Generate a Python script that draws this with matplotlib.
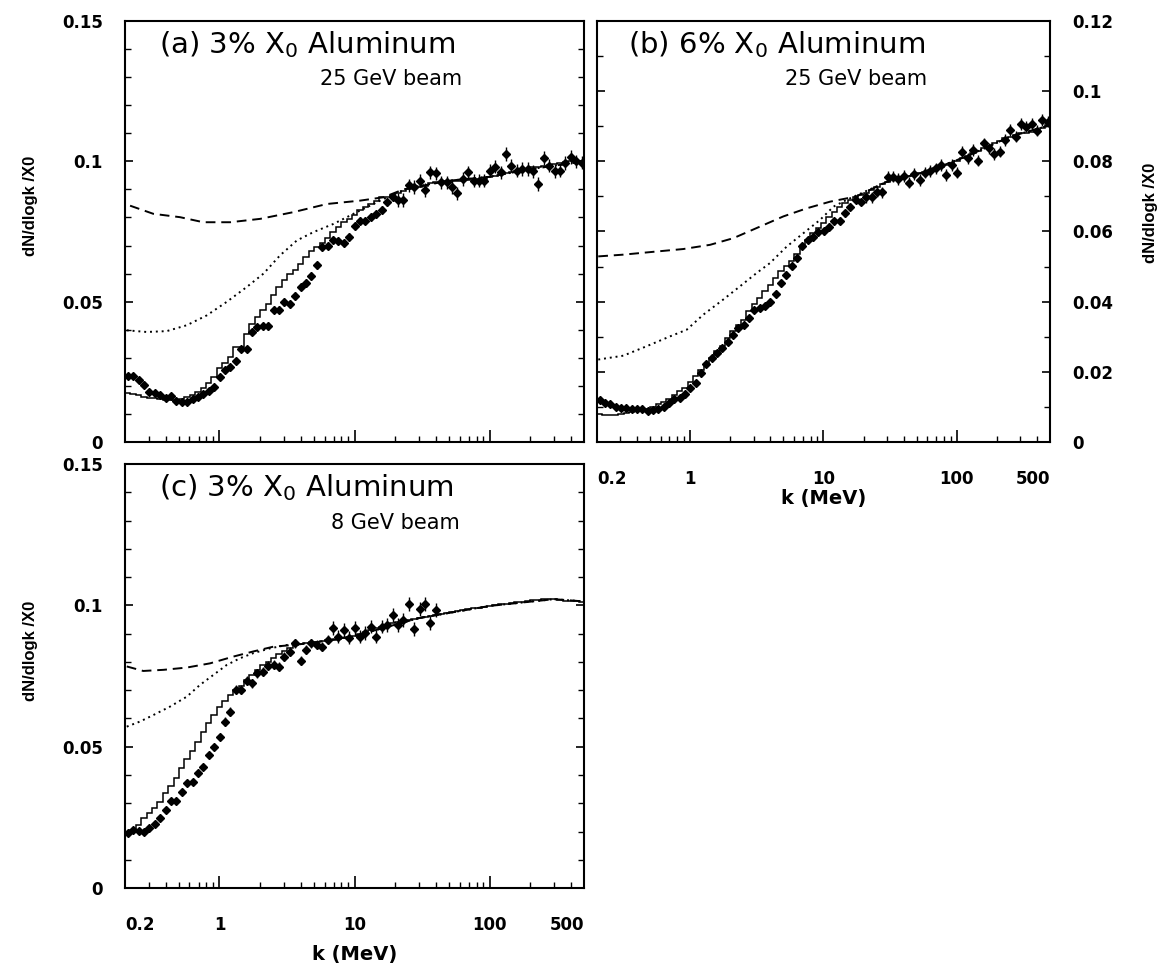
import numpy as np
import matplotlib.pyplot as plt
from matplotlib.ticker import FixedLocator, LogLocator, MultipleLocator, NullFormatter

plt.rcParams['font.family'] = 'DejaVu Sans'

# photon energy bins, 25 per decade from 0.2 to 500 MeV
k_edges = 0.2 * 10 ** (np.arange(86) / 25)
k_mid = np.sqrt(k_edges[:-1] * k_edges[1:])

# (a) 3% X0 Al, 25 GeV
data_a = [0.0235, 0.0235, 0.0220, 0.0203, 0.0179, 0.0173, 0.0167, 0.0158, 0.0163, 0.0146,
          0.0143, 0.0143, 0.0152, 0.0159, 0.0171, 0.0182, 0.0197, 0.0230, 0.0258, 0.0268,
          0.0288, 0.0333, 0.0333, 0.0392, 0.0410, 0.0412, 0.0412, 0.0472, 0.0472, 0.0499,
          0.0493, 0.0519, 0.0554, 0.0566, 0.0590, 0.0629, 0.0694, 0.0700, 0.0720, 0.0716,
          0.0709, 0.0730, 0.0771, 0.0789, 0.0789, 0.0801, 0.0813, 0.0827, 0.0854, 0.0872,
          0.0863, 0.0863, 0.0914, 0.0908, 0.0931, 0.0898, 0.0961, 0.0957, 0.0925, 0.0925,
          0.0908, 0.0886, 0.0937, 0.0961, 0.0931, 0.0931, 0.0931, 0.0967, 0.0981, 0.0961,
          0.1026, 0.0985, 0.0967, 0.0973, 0.0973, 0.0964, 0.0919, 0.1012, 0.0985, 0.0964,
          0.0967, 0.0994, 0.1015, 0.1000, 0.0995]
err_a = [0.0005] * 25 + [0.0014] * 25 + [0.0024] * 35
mc_a = [0.0175, 0.0171, 0.0166, 0.0161, 0.0158, 0.0155, 0.0153, 0.0150, 0.0149, 0.0149,
        0.0152, 0.0161, 0.0169, 0.0179, 0.0194, 0.0209, 0.0232, 0.0262, 0.0280, 0.0303,
        0.0339, 0.0339, 0.0386, 0.0422, 0.0445, 0.0469, 0.0493, 0.0522, 0.0552, 0.0576,
        0.0600, 0.0614, 0.0635, 0.0659, 0.0682, 0.0694, 0.0709, 0.0727, 0.0748, 0.0765,
        0.0783, 0.0795, 0.0807, 0.0825, 0.0839, 0.0848, 0.0860, 0.0872, 0.0872, 0.0881,
        0.0886, 0.0893, 0.0902, 0.0908, 0.0908, 0.0913, 0.0922, 0.0925, 0.0925, 0.0929,
        0.0931, 0.0931, 0.0931, 0.0934, 0.0934, 0.0937, 0.0937, 0.0945, 0.0949, 0.0955,
        0.0957, 0.0961, 0.0967, 0.0969, 0.0973, 0.0979, 0.0979, 0.0985, 0.0988, 0.0990,
        0.0993, 0.0996, 0.1000, 0.1000, 0.1002]
dash_k_a = [0.218, 0.324, 0.511, 0.76, 1.2, 2.0, 3.53, 6.24, 11.0, 16.4, 23.0, 50, 100, 200, 500]
dash_a = [0.0842, 0.0813, 0.0801, 0.0783, 0.0783, 0.0795, 0.0819, 0.0848, 0.0860, 0.0872,
          0.0900, 0.0931, 0.0945, 0.0972, 0.1000]
dot_k_a = [0.206, 0.289, 0.407, 0.573, 0.805, 1.13, 1.59, 2.12, 2.81, 3.74, 4.97, 6.98, 9.82,
           12.3, 16.4, 25, 50, 100, 200, 500]
dot_a = [0.0398, 0.0392, 0.0395, 0.0416, 0.0451, 0.0499, 0.0552, 0.0600, 0.0665, 0.0718,
         0.0748, 0.0777, 0.0813, 0.0836, 0.0866, 0.0905, 0.0931, 0.0945, 0.0972, 0.1000]

# (b) 6% X0 Al, 25 GeV
data_b = [0.01185, 0.01119, 0.01071, 0.01005, 0.00976, 0.00976, 0.00948, 0.00948, 0.00929, 0.00882,
          0.00910, 0.00929, 0.01005, 0.01119, 0.01213, 0.01261, 0.01355, 0.01545, 0.01687, 0.01972,
          0.02209, 0.02398, 0.02540, 0.02683, 0.02844, 0.03062, 0.03251, 0.03346, 0.03536, 0.03773,
          0.03820, 0.03886, 0.03981, 0.04228, 0.04531, 0.04768, 0.05005, 0.05242, 0.05574, 0.05763,
          0.05839, 0.05972, 0.06000, 0.06142, 0.06285, 0.06313, 0.06522, 0.06711, 0.06901, 0.06853,
          0.06977, 0.06977, 0.07138, 0.07119, 0.07564, 0.07564, 0.07498, 0.07583, 0.07394, 0.07640,
          0.07469, 0.07678, 0.07725, 0.07801, 0.07896, 0.07612, 0.07896, 0.07678, 0.08275, 0.08086,
          0.08323, 0.08019, 0.08512, 0.08370, 0.08209, 0.08275, 0.08607, 0.08891, 0.08702, 0.09062,
          0.08986, 0.09062, 0.08872, 0.09176, 0.09128]
err_b = [0.0004] * 35 + [0.0010] * 15 + [0.0016] * 35
mc_b = [0.00787, 0.00768, 0.00758, 0.00768, 0.00787, 0.00815, 0.00853, 0.00882, 0.00910, 0.00948,
        0.01005, 0.01071, 0.01147, 0.01232, 0.01327, 0.01441, 0.01545, 0.01706, 0.01877, 0.02047,
        0.02209, 0.02398, 0.02588, 0.02730, 0.02967, 0.03157, 0.03346, 0.03488, 0.03725, 0.03943,
        0.04104, 0.04294, 0.04484, 0.04673, 0.04863, 0.05005, 0.05147, 0.05365, 0.05555, 0.05763,
        0.05953, 0.06095, 0.06256, 0.06427, 0.06569, 0.06711, 0.06806, 0.06901, 0.06977, 0.07043,
        0.07109, 0.07185, 0.07261, 0.07356, 0.07422, 0.07469, 0.07498, 0.07545, 0.07583, 0.07621,
        0.07659, 0.07706, 0.07754, 0.07801, 0.07849, 0.07896, 0.07943, 0.08010, 0.08086, 0.08152,
        0.08228, 0.08304, 0.08370, 0.08446, 0.08512, 0.08588, 0.08654, 0.08702, 0.08749, 0.08797,
        0.08815, 0.08834, 0.08853, 0.08939, 0.09034]
dash_k_b = [0.2045, 0.315, 0.561, 0.887, 1.41, 2.11, 3.34, 5.0, 7.48, 11.2, 17.7, 30, 60, 120, 250, 500]
dash_b = [0.0529, 0.0534, 0.0543, 0.0550, 0.0562, 0.0581, 0.0614, 0.0643, 0.0666, 0.0685,
          0.0700, 0.0742, 0.0771, 0.0815, 0.0870, 0.0903]
dot_k_b = [0.2045, 0.315, 0.472, 0.706, 0.942, 1.256, 1.77, 2.37, 3.16, 3.97, 5.30, 7.06, 9.42,
           11.9, 14.9, 20, 30, 60, 120, 250, 500]
dot_b = [0.0235, 0.0246, 0.0273, 0.0301, 0.0320, 0.0363, 0.0406, 0.0444, 0.0482, 0.0510,
         0.0557, 0.0595, 0.0633, 0.0671, 0.0690, 0.0712, 0.0742, 0.0771, 0.0815, 0.0870, 0.0903]

# (c) 3% X0 Al, 8 GeV
data_c = [0.01935, 0.02053, 0.02018, 0.01971, 0.02136, 0.02254, 0.02466, 0.02761, 0.03080, 0.03080,
          0.03387, 0.03705, 0.03764, 0.04059, 0.04295, 0.04708, 0.05003, 0.05357, 0.05888, 0.06242,
          0.07009, 0.07009, 0.07328, 0.07245, 0.07599, 0.07658, 0.07871, 0.07894, 0.07835, 0.08189,
          0.08366, 0.08661, 0.08036, 0.08425, 0.08661, 0.08602, 0.08543, 0.08779, 0.09192, 0.08897,
          0.09133, 0.08862, 0.09192, 0.08897, 0.09015, 0.09251, 0.08897, 0.09251, 0.09310, 0.09664,
          0.09310, 0.09487, 0.10042, 0.09169, 0.09877, 0.10042, 0.09369, 0.09841]
err_c = [0.0006] * 18 + [0.0016] * 20 + [0.0024] * 20
mc_c = [0.01971, 0.02053, 0.02230, 0.02466, 0.02643, 0.02844, 0.03056, 0.03351, 0.03623, 0.03906,
        0.04236, 0.04567, 0.04850, 0.05157, 0.05534, 0.05829, 0.06124, 0.06419, 0.06620, 0.06832,
        0.07009, 0.07163, 0.07363, 0.07540, 0.07717, 0.07894, 0.08012, 0.08154, 0.08272, 0.08390,
        0.08484, 0.08602, 0.08649, 0.08661, 0.08697, 0.08720, 0.08744, 0.08767, 0.08791, 0.08815,
        0.08838, 0.08874, 0.08921, 0.08980, 0.09051, 0.09133, 0.09192, 0.09251, 0.09310, 0.09369,
        0.09405, 0.09452, 0.09487, 0.09523, 0.09546, 0.09582, 0.09617, 0.09652, 0.09688, 0.09723,
        0.09759, 0.09794, 0.09829, 0.09865, 0.09900, 0.09924, 0.09959, 0.09983, 0.10018, 0.10042,
        0.10065, 0.10089, 0.10113, 0.10136, 0.10160, 0.10184, 0.10207, 0.10231, 0.10231, 0.10219,
        0.10195, 0.10172, 0.10160, 0.10160, 0.10136]
dash_k_c = [0.206, 0.273, 0.385, 0.573, 0.853, 1.27, 1.78, 2.51, 3.53, 4.97, 10, 30, 100, 300, 500]
dash_c = [0.0784, 0.0768, 0.0772, 0.0780, 0.0795, 0.0819, 0.0837, 0.0854, 0.0860, 0.0868,
          0.0892, 0.0955, 0.0998, 0.1022, 0.1014]
dot_k_c = [0.206, 0.258, 0.324, 0.431, 0.573, 0.719, 0.902, 1.13, 1.42, 1.78, 2.37, 3.16, 5,
           10, 30, 100, 300, 500]
dot_c = [0.0571, 0.0589, 0.0612, 0.0642, 0.0677, 0.0719, 0.0754, 0.0789, 0.0813, 0.0831,
         0.0848, 0.0860, 0.0868, 0.0892, 0.0955, 0.0998, 0.1022, 0.1014]

x_ticks = [0.2, 1, 10, 100, 500]
x_labels = ['0.2', '1', '10', '100', '500']
ylab = 'dN/dlogk /X0'
ylab_font = dict(family='Liberation Sans', fontsize=12, fontweight='bold')


def draw(ax, data, err, mc, dk, dv, tk, tv):
    ax.plot(dk, dv, color='k', lw=1.4, ls=(0, (5, 3)))
    ax.plot(tk, tv, color='k', lw=1.4, ls=(0, (1, 2)))
    ax.stairs(mc, k_edges, color='k', lw=1.1)
    ax.errorbar(k_mid[:len(data)], data, yerr=err, fmt='D', ms=4, color='k',
                elinewidth=1.0, capsize=0)


def style(ax, ymax, ymajor, yticklabels, xlabels):
    ax.set_xscale('log')
    ax.set_xlim(0.2, 500)
    ax.set_ylim(0, ymax)
    for s in ax.spines.values():
        s.set_linewidth(1.5)
    ax.xaxis.set_major_locator(FixedLocator(x_ticks))
    ax.xaxis.set_minor_locator(LogLocator(base=10, subs=np.arange(2, 10), numticks=20))
    ax.xaxis.set_minor_formatter(NullFormatter())
    ax.set_yticks(np.arange(0, ymax + 1e-9, ymajor))
    ax.set_yticklabels(yticklabels)
    ax.yaxis.set_minor_locator(MultipleLocator(0.01))
    ax.tick_params(axis='both', which='major', labelsize=12)
    ax.tick_params(axis='x', which='both', direction='in', bottom=True, top=False)
    ax.tick_params(axis='x', which='major', length=9, width=1.2, pad=20)
    ax.tick_params(axis='x', which='minor', length=4.5, width=1.0)
    ax.tick_params(axis='y', which='both', direction='in', left=True, right=True)
    ax.tick_params(axis='y', which='major', length=6, width=1.2, pad=16)
    ax.tick_params(axis='y', which='minor', length=4, width=1.0)
    if xlabels:
        ax.set_xticklabels(x_labels)
        labs = ax.get_xticklabels()
        labs[0].set_ha('left')
        labs[-1].set_ha('right')
        ax.set_xlabel('k (MeV)', fontsize=14, fontweight='bold')
    else:
        ax.set_xticklabels([])
    for t in ax.xaxis.get_major_ticks() + ax.yaxis.get_major_ticks():
        t.label1.set_fontweight('bold')
        t.label2.set_fontweight('bold')


fig = plt.figure(figsize=(11.63, 9.68), dpi=100)
ax_a = fig.add_axes([0.1075, 0.5434, 0.3947, 0.4349])
ax_b = fig.add_axes([0.5133, 0.5434, 0.3895, 0.4349])
ax_c = fig.add_axes([0.1075, 0.0826, 0.3947, 0.438])

draw(ax_a, data_a, err_a, mc_a, dash_k_a, dash_a, dot_k_a, dot_a)
draw(ax_b, data_b, err_b, mc_b, dash_k_b, dash_b, dot_k_b, dot_b)
draw(ax_c, data_c, err_c, mc_c, dash_k_c, dash_c, dot_k_c, dot_c)

style(ax_a, 0.15, 0.05, ['0', '0.05', '0.1', '0.15'], False)
style(ax_b, 0.12, 0.02, ['0', '0.02', '0.04', '0.06', '0.08', '0.1', '0.12'], True)
style(ax_c, 0.15, 0.05, ['0', '0.05', '0.1', '0.15'], True)
ax_b.tick_params(axis='y', which='both', labelleft=False, labelright=True)

ax_a.set_ylabel(ylab, **ylab_font)
ax_a.yaxis.set_label_coords(-0.19, 0.56)
ax_c.set_ylabel(ylab, **ylab_font)
ax_c.yaxis.set_label_coords(-0.19, 0.56)
ax_b.yaxis.set_label_position('right')
ax_b.set_ylabel(ylab, **ylab_font)
ax_b.yaxis.set_label_coords(1.205, 0.545)
ax_b.xaxis.set_label_coords(0.5, -0.112)
ax_c.xaxis.set_label_coords(0.5, -0.134)

titles = [(ax_a, '(a) 3% X$_0$ Aluminum', '25 GeV beam', 0.074, 0.734),
          (ax_b, '(b) 6% X$_0$ Aluminum', '25 GeV beam', 0.068, 0.728),
          (ax_c, '(c) 3% X$_0$ Aluminum', '8 GeV beam', 0.074, 0.730)]
for ax, t, sub, tx, sx in titles:
    ax.text(tx, 0.924, t, transform=ax.transAxes, fontsize=21, va='baseline', ha='left')
    ax.text(sx, 0.847, sub, transform=ax.transAxes, fontsize=15, va='baseline', ha='right')

fig.savefig('out.png', dpi=100)
